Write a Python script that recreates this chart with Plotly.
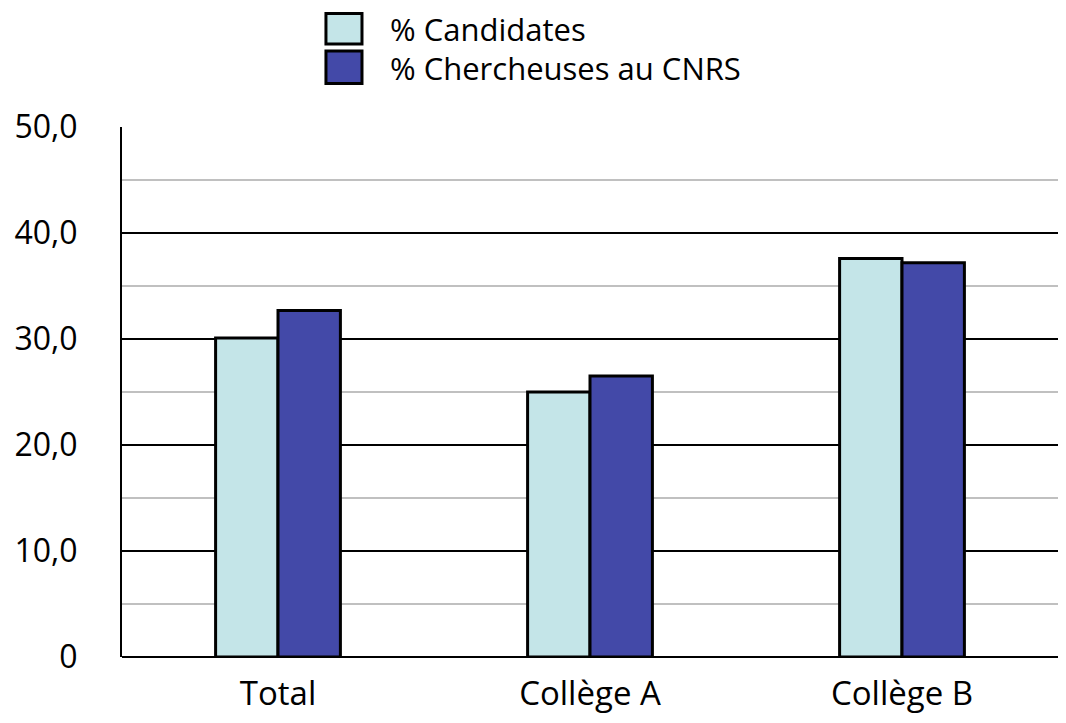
import plotly.graph_objects as go

categories = ["Total", "Collège A", "Collège B"]
candidates = [30.1, 25.0, 37.6]
chercheuses = [32.7, 26.5, 37.2]
series_names = ["% Candidates", "% Chercheuses au CNRS"]
colors = ["#C4E5E8", "#4349A8"]
tick_vals = [0, 10, 20, 30, 40, 50]
tick_text = ["0", "10,0", "20,0", "30,0", "40,0", "50,0"]

FONT = "'Open Sans', Lato, sans-serif"

fig = go.Figure()
for name, vals, col in zip(series_names, [candidates, chercheuses], colors):
    fig.add_trace(go.Bar(
        x=categories, y=vals, name=name,
        marker=dict(color=col, line=dict(color="black", width=3)),
        showlegend=False,
    ))

# légende dessinée à la main (carrés plus grands que la légende plotly)
# plot : x de 122 à 1058 px, y de 127 à 664 px dans la page
legend_boxes = [(1.1564, 1.2142), (1.0819, 1.1434)]
legend_text_y = [1.1844, 1.1117]
for name, col, (b0, b1), ty in zip(series_names, colors, legend_boxes, legend_text_y):
    fig.add_shape(type="rect", xref="paper", yref="paper",
                  x0=0.2179, x1=0.2564, y0=b0, y1=b1,
                  fillcolor=col, line=dict(color="black", width=3))
    fig.add_annotation(text=name, xref="paper", yref="paper",
                       x=0.2842, y=ty, xanchor="left", yanchor="middle",
                       showarrow=False, font=dict(size=31, color="black", family=FONT))

# la page a une marge de 8px : la figure doit tenir dans 1050x707
fig.update_layout(
    barmode="group",
    bargap=0.6,
    bargroupgap=0,
    paper_bgcolor="white",
    plot_bgcolor="white",
    font=dict(family=FONT, size=31, color="black"),
    margin=dict(l=114, r=0, t=119, b=51),
    width=1050, height=707,
)
fig.update_xaxes(showline=False, ticks="", showgrid=False,
                 tickfont=dict(size=33), ticklabelstandoff=14)
fig.update_yaxes(
    range=[0, 50], tickvals=tick_vals, ticktext=tick_text,
    showgrid=True, gridcolor="black", gridwidth=2,
    minor=dict(dtick=5, showgrid=True, gridcolor="#c0c0c0", gridwidth=2),
    showline=True, linecolor="black", linewidth=2,
    zeroline=True, zerolinecolor="black", zerolinewidth=2,
    ticks="", ticklabelstandoff=36, tickfont=dict(size=32),
)

fig.write_html("out.html")
